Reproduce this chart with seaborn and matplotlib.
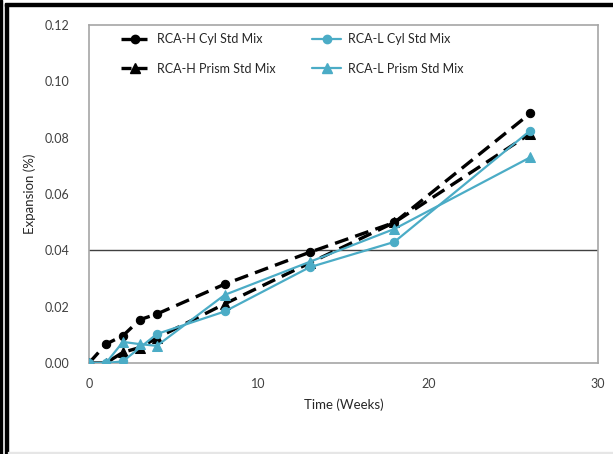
import matplotlib
matplotlib.use("Agg")
import matplotlib.pyplot as plt
import seaborn as sns
import pandas as pd
from matplotlib.lines import Line2D
from matplotlib.patches import Rectangle

# Data
h_cyl_weeks = [0, 1, 2, 3, 4, 8, 13, 18, 26]
h_cyl_vals = [0.0, 0.0067, 0.0097, 0.0154, 0.0174, 0.0280, 0.0393, 0.0499, 0.0886]

h_prism_weeks = [0, 1, 2, 3, 4, 8, 13, 18, 26]
h_prism_vals = [0.0, 0.0, 0.0038, 0.0055, 0.0089, 0.0210, 0.0355, 0.0499, 0.0814]

l_cyl_weeks = [0, 1, 2, 4, 8, 13, 18, 26]
l_cyl_vals = [0.0, 0.0, 0.0006, 0.0103, 0.0183, 0.0340, 0.0430, 0.0825]

l_prism_weeks = [0, 1, 2, 3, 4, 8, 13, 18, 26]
l_prism_vals = [0.0, 0.0, 0.0075, 0.0067, 0.0061, 0.0242, 0.0359, 0.0476, 0.0730]

labels = ["RCA-H Cyl Std Mix", "RCA-H Prism Std Mix", "RCA-L Cyl Std Mix", "RCA-L Prism Std Mix"]
x_ticks = [0, 10, 20, 30]
y_ticks = [0.00, 0.02, 0.04, 0.06, 0.08, 0.10, 0.12]
threshold = 0.04

sns.set_theme(style="white")
plt.rcParams["font.family"] = ["Lato", "DejaVu Sans"]

fig = plt.figure(figsize=(6.13, 4.54), dpi=100)
ax = fig.add_axes([0.1452, 0.2004, 0.8303, 0.7445])

black = "black"
teal = "#4BACC6"

series = [
    (h_cyl_weeks, h_cyl_vals, black, "o", (4.2, 2.2), 2.4, 6),
    (h_prism_weeks, h_prism_vals, black, "^", (4.2, 2.2), 2.4, 6.5),
    (l_cyl_weeks, l_cyl_vals, teal, "o", None, 1.6, 6),
    (l_prism_weeks, l_prism_vals, teal, "^", None, 1.6, 6.5),
]

handles = []
for (wx, vy, col, mk, dash, lw, ms), lab in zip(series, labels):
    df = pd.DataFrame({"Time": wx, "Expansion": vy})
    sns.lineplot(data=df, x="Time", y="Expansion", ax=ax, color=col, marker=mk,
                 markersize=ms, markeredgecolor=col, linewidth=lw,
                 legend=False, zorder=3)
    ln = ax.lines[-1]
    if dash is not None:
        ln.set_dashes(dash)
    h = Line2D([], [], color=col, marker=mk, markersize=ms, markeredgecolor=col, linewidth=lw)
    if dash is not None:
        h.set_dashes((3.0, 1.8))
    handles.append(h)

ax.axhline(threshold, color="#404040", linewidth=1.0, zorder=2)

ax.set_xlim(0, 30)
ax.set_ylim(0, 0.12)
ax.set_xticks(x_ticks)
ax.set_yticks(y_ticks)
ax.set_yticklabels([f"{v:.2f}" for v in y_ticks])
ax.tick_params(axis="x", which="major", direction="out", length=5, width=1,
               color="#A6A6A6", labelsize=9, labelcolor="#404040", pad=6)
ax.tick_params(axis="y", which="major", length=0, labelsize=9, labelcolor="#404040", pad=14)

for s in ax.spines.values():
    s.set_color("#A6A6A6")
    s.set_linewidth(1.2)

ax.set_xlabel("Time (Weeks)", fontsize=9.5, color="#262626", labelpad=6)
ax.set_ylabel("Expansion (%)", fontsize=9.5, color="#262626", labelpad=6)

leg = ax.legend(handles, labels, ncol=2, loc="upper left", bbox_to_anchor=(0.063, 0.976),
                frameon=False, fontsize=9, handlelength=2.3, columnspacing=2.95,
                labelspacing=1.4, handletextpad=0.55, borderpad=0, borderaxespad=0)
for t in leg.get_texts():
    t.set_color("#262626")

# figure frame
fig.patches.append(Rectangle((0.0, 0.0), 0.003, 1.0, transform=fig.transFigure,
                             color="black", zorder=10))
fig.patches.append(Rectangle((0.008, 0.0), 0.005, 0.992, transform=fig.transFigure,
                             color="black", zorder=10))
fig.patches.append(Rectangle((0.008, 0.987), 0.992, 0.006, transform=fig.transFigure,
                             color="black", zorder=10))
fig.patches.append(Rectangle((0.013, 0.002), 0.987, 0.003, transform=fig.transFigure,
                             color="#E6E6E6", zorder=10))

fig.savefig("out.png", dpi=100)
